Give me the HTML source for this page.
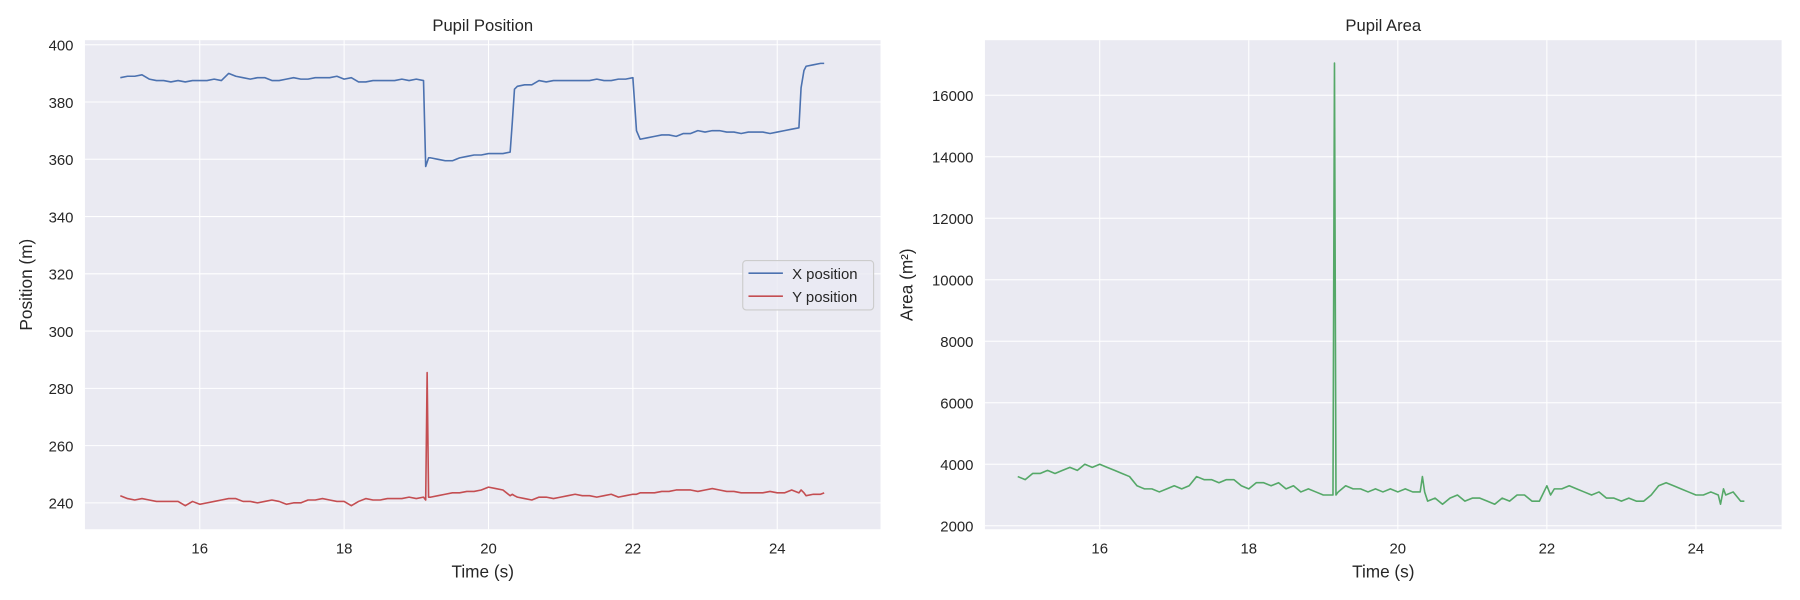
<!DOCTYPE html>
<html><head><meta charset="utf-8"><style>
html,body{margin:0;padding:0;background:#fff;}
svg{display:block;font-family:"Liberation Sans","DejaVu Sans",sans-serif;}
</style></head><body>
<svg id="chart" width="1800" height="600" viewBox="0 0 1568 522.67"></svg>
<script>
const times=[14.9,15.0,15.1,15.2,15.3,15.4,15.5,15.6,15.7,15.8,15.9,16.0,16.1,16.2,16.3,16.4,16.5,16.6,16.7,16.8,16.9,17.0,17.1,17.2,17.3,17.4,17.5,17.6,17.7,17.8,17.9,18.0,18.1,18.2,18.3,18.4,18.5,18.6,18.7,18.8,18.9,19.0,19.1,19.13,19.15,19.17,19.2,19.3,19.4,19.5,19.6,19.7,19.8,19.9,20.0,20.1,20.2,20.3,20.33,20.36,20.4,20.5,20.6,20.7,20.8,20.9,21.0,21.1,21.2,21.3,21.4,21.5,21.6,21.7,21.8,21.9,22.0,22.05,22.1,22.2,22.3,22.4,22.5,22.6,22.7,22.8,22.9,23.0,23.1,23.2,23.3,23.4,23.5,23.6,23.7,23.8,23.9,24.0,24.1,24.2,24.3,24.33,24.37,24.4,24.5,24.6,24.65];
const xPos=[388.5,389,389,389.5,388,387.5,387.5,387,387.5,387,387.5,387.5,387.5,388,387.5,390,389,388.5,388,388.5,388.5,387.5,387.5,388,388.5,388,388,388.5,388.5,388.5,389,388,388.5,387,387,387.5,387.5,387.5,387.5,388,387.5,388,387.5,
357.5,359,360.5,
360.5,360,359.5,359.5,360.5,361,361.5,361.5,362,362,362,362.5,
373,384.5,
385.5,386,386,387.5,387,387.5,387.5,387.5,387.5,387.5,387.5,388,387.5,387.5,388,388,388.5,
370,
367,367.5,368,368.5,368.5,368,369,369,370,369.5,370,370,369.5,369.5,369,369.5,369.5,369.5,369,369.5,370,370.5,371,
385,391,
392.5,393,393.5,393.5];
const yPos=[242.5,241.5,241,241.5,241,240.5,240.5,240.5,240.5,239,240.5,239.5,240,240.5,241,241.5,241.5,240.5,240.5,240,240.5,241,240.5,239.5,240,240,241,241,241.5,241,240.5,240.5,239,240.5,241.5,241,241,241.5,241.5,241.5,242,241.5,242,
241,285.5,242,
242,242.5,243,243.5,243.5,244,244,244.5,245.5,245,244.5,242.5,
243,242.5,
242,241.5,241,242,242,241.5,242,242.5,243,242.5,242.5,242,242.5,243,242,242.5,243,
243,
243.5,243.5,243.5,244,244,244.5,244.5,244.5,244,244.5,245,244.5,244,244,243.5,243.5,243.5,243.5,244,243.5,243.5,244.5,243.5,
244.5,243.5,
242.5,243,243,243.5];
const area=[3600,3500,3700,3700,3800,3700,3800,3900,3800,4000,3900,4000,3900,3800,3700,3600,3300,3200,3200,3100,3200,3300,3200,3300,3600,3500,3500,3400,3500,3500,3300,3200,3400,3400,3300,3400,3200,3300,3100,3200,3100,3000,3000,
3000,17050,3000,
3100,3300,3200,3200,3100,3200,3100,3200,3100,3200,3100,3100,
3600,3100,
2800,2900,2700,2900,3000,2800,2900,2900,2800,2700,2900,2800,3000,3000,2800,2800,3300,
3000,
3200,3200,3300,3200,3100,3000,3100,2900,2900,2800,2900,2800,2800,3000,3300,3400,3300,3200,3100,3000,3000,3100,3000,
2700,3200,
3000,3100,2800,2800];
const xTicks=[16,18,20,22,24];
const leftYTicks=[240,260,280,300,320,340,360,380,400];
const rightYTicks=[2000,4000,6000,8000,10000,12000,14000,16000];

const NS="http://www.w3.org/2000/svg";
const svg=document.getElementById('chart');
function mk(tag,attrs,parent){const e=document.createElementNS(NS,tag);for(const k in attrs)e.setAttribute(k,attrs[k]);(parent||svg).appendChild(e);return e;}

function panel(o){
  const g=mk('g',{});
  
  
  const sx=v=>o.x0+(v-o.xmin)/(o.xmax-o.xmin)*(o.x1-o.x0);
  const sy=v=>o.y1-(v-o.ymin)/(o.ymax-o.ymin)*(o.y1-o.y0);
  const bg=mk('rect',{x:o.x0,y:o.y0,width:o.x1-o.x0,height:o.y1-o.y0,fill:'#eaeaf2'},g);
  
  
  xTicks.forEach(t=>{
    const X=sx(t);
    mk('line',{x1:X,x2:X,y1:o.y0,y2:o.y1,stroke:'#fff','stroke-width':0.9},g);
    const tl=mk('text',{x:X,y:o.y1+21,'text-anchor':'middle','font-size':13,fill:'#262626'},g);
    tl.textContent=t;
    
    
  });
  o.yTicks.forEach(t=>{
    const Y=sy(t);
    mk('line',{x1:o.x0,x2:o.x1,y1:Y,y2:Y,stroke:'#fff','stroke-width':0.9},g);
    const tl=mk('text',{x:o.x0-10,y:Y+5,'text-anchor':'end','font-size':13,fill:'#262626'},g);
    tl.textContent=t;
    
    
  });
  o.series.forEach(s=>{
    const d=times.map((t,i)=>(i?'L':'M')+sx(t).toFixed(2)+','+sy(s.v[i]).toFixed(2)).join('');
    const p=mk('path',{d:d,fill:'none',stroke:s.c,'stroke-width':1.4,'stroke-linejoin':'round'},g);
    
    
  });
  const ti=mk('text',{x:(o.x0+o.x1)/2,y:o.y0-8,'text-anchor':'middle','font-size':14.5,fill:'#262626'},g);
  ti.textContent=o.title;
  
  
  const xl=mk('text',{x:(o.x0+o.x1)/2,y:o.y1+42,'text-anchor':'middle','font-size':15,fill:'#262626'},g);
  xl.textContent='Time (s)';
  
  
  const yx=o.ylx, yy=(o.y0+o.y1)/2;
  const yl=mk('text',{x:yx,y:yy,'text-anchor':'middle','font-size':15,fill:'#262626',transform:'rotate(-90 '+yx+' '+yy+')'},g);
  yl.textContent=o.ylabel;
  
  
}

panel({name:'pupil-position-chart',x0:74,x1:767,y0:35,y1:461,xmin:14.41,xmax:25.43,ymin:230.8,ymax:401.6,
  yTicks:leftYTicks,title:'Pupil Position',ylabel:'Position (m)',ylx:28,
  series:[{v:xPos,c:'#4c72b0',name:'x-position-line'},{v:yPos,c:'#c44e52',name:'y-position-line'}]});
panel({name:'pupil-area-chart',x0:858,x1:1552,y0:35,y1:461,xmin:14.46,xmax:25.15,ymin:1888,ymax:17792,
  yTicks:rightYTicks,title:'Pupil Area',ylabel:'Area (m²)',ylx:795,
  series:[{v:area,c:'#55a868',name:'area-line'}]});

const lg=mk('g',{});


mk('rect',{x:647,y:227,width:114,height:43,rx:3,fill:'#eaeaf2',stroke:'#cccccc','stroke-width':1,'fill-opacity':0.8},lg);
[['X position','#4c72b0',238],['Y position','#c44e52',258]].forEach(e=>{
  const eg=mk('g',{},lg);
  
  
  mk('line',{x1:652,x2:682,y1:e[2],y2:e[2],stroke:e[1],'stroke-width':1.4},eg);
  const t=mk('text',{x:690,y:e[2]+5,'font-size':13,fill:'#262626'},eg);
  t.textContent=e[0];
});
</script>
</body></html>
